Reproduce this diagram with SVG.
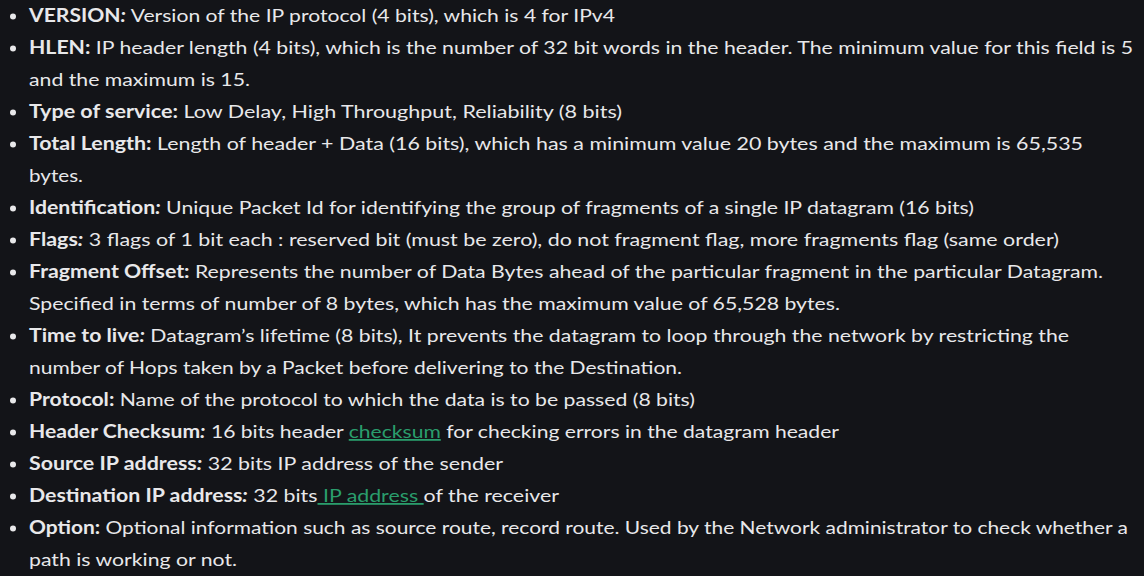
<svg xmlns="http://www.w3.org/2000/svg" width="1144" height="576" viewBox="0 0 1144 576">
<style>
text{font-family:Lato,"Noto Sans","Liberation Sans",sans-serif;font-size:18px;fill:#e8e8ea;lengthAdjust:spacing}
.b{font-weight:700}
.i{font-style:italic;font-weight:700}
.lk{fill:#2a9d6c;text-decoration:underline}
circle{fill:#e8e8ea}
</style>
<rect width="1144" height="576" fill="#131418"/>
<g id="version"><circle cx="13" cy="16.5" r="3"/><text x="29" y="22" textLength="586" lengthAdjust="spacingAndGlyphs"><tspan class="b">VERSION</tspan><tspan class="i">:</tspan> Version of the IP protocol (4 bits), which is 4 for IPv4</text></g>
<g id="hlen"><circle cx="13" cy="48.5" r="3"/><text x="29" y="54" textLength="1104" lengthAdjust="spacingAndGlyphs"><tspan class="b">HLEN:</tspan> IP header length (4 bits), which is the number of 32 bit words in the header. The minimum value for this field is 5</text>
<text x="29" y="86" textLength="221" lengthAdjust="spacingAndGlyphs">and the maximum is 15.</text></g>
<g id="tos"><circle cx="13" cy="112.5" r="3"/><text x="29" y="118" textLength="593" lengthAdjust="spacingAndGlyphs"><tspan class="b">Type of service:</tspan> Low Delay, High Throughput, Reliability (8 bits)</text></g>
<g id="total-length"><circle cx="13" cy="144.5" r="3"/><text x="29" y="150" textLength="1054" lengthAdjust="spacingAndGlyphs"><tspan class="b">Total Length:</tspan> Length of header + Data (16 bits), which has a minimum value 20 bytes and the maximum is 65,535</text>
<text x="29" y="182" textLength="54" lengthAdjust="spacingAndGlyphs">bytes.</text></g>
<g id="identification"><circle cx="13" cy="208.5" r="3"/><text x="29" y="214" textLength="945" lengthAdjust="spacingAndGlyphs"><tspan class="b">Identification</tspan><tspan class="i">:</tspan> Unique Packet Id for identifying the group of fragments of a single IP datagram (16 bits)</text></g>
<g id="flags"><circle cx="13" cy="240.5" r="3"/><text x="29" y="246" textLength="1030" lengthAdjust="spacingAndGlyphs"><tspan class="b">Flags</tspan><tspan class="i">:</tspan> 3 flags of 1 bit each : reserved bit (must be zero), do not fragment flag, more fragments flag (same order)</text></g>
<g id="fragment-offset"><circle cx="13" cy="272.5" r="3"/><text x="29" y="278" textLength="1074" lengthAdjust="spacingAndGlyphs"><tspan class="b">Fragment Offset:</tspan> Represents the number of Data Bytes ahead of the particular fragment in the particular Datagram.</text>
<text x="29" y="310" textLength="811" lengthAdjust="spacingAndGlyphs">Specified in terms of number of 8 bytes, which has the maximum value of 65,528 bytes.</text></g>
<g id="ttl"><circle cx="13" cy="336.5" r="3"/><text x="29" y="342" textLength="1040" lengthAdjust="spacingAndGlyphs"><tspan class="b">Time to live</tspan><tspan class="i">:</tspan> Datagram’s lifetime (8 bits), It prevents the datagram to loop through the network by restricting the</text>
<text x="29" y="374" textLength="653" lengthAdjust="spacingAndGlyphs">number of Hops taken by a Packet before delivering to the Destination.</text></g>
<g id="protocol"><circle cx="13" cy="400.5" r="3"/><text x="29" y="406" textLength="666" lengthAdjust="spacingAndGlyphs"><tspan class="b">Protocol:</tspan> Name of the protocol to which the data is to be passed (8 bits)</text></g>
<g id="checksum"><circle cx="13" cy="432.5" r="3"/><text x="29" y="438" textLength="810" lengthAdjust="spacingAndGlyphs"><tspan class="b">Header Checksum</tspan><tspan class="i">:</tspan> 16 bits header <tspan class="lk">checksum</tspan> for checking errors in the datagram header</text></g>
<g id="source-ip"><circle cx="13" cy="464.5" r="3"/><text x="29" y="470" textLength="474" lengthAdjust="spacingAndGlyphs"><tspan class="b">Source IP address</tspan><tspan class="i">:</tspan> 32 bits IP address of the sender</text></g>
<g id="destination-ip"><circle cx="13" cy="496.5" r="3"/><text x="29" y="502" textLength="530" lengthAdjust="spacingAndGlyphs"><tspan class="b">Destination IP address</tspan><tspan class="i">:</tspan> 32 bits<tspan class="lk" xml:space="preserve"> IP address </tspan>of the receiver</text></g>
<g id="option"><circle cx="13" cy="528.5" r="3"/><text x="29" y="534" textLength="1099" lengthAdjust="spacingAndGlyphs"><tspan class="b">Option:</tspan> Optional information such as source route, record route. Used by the Network administrator to check whether a</text>
<text x="29" y="566" textLength="208" lengthAdjust="spacingAndGlyphs">path is working or not.</text></g>
</svg>
